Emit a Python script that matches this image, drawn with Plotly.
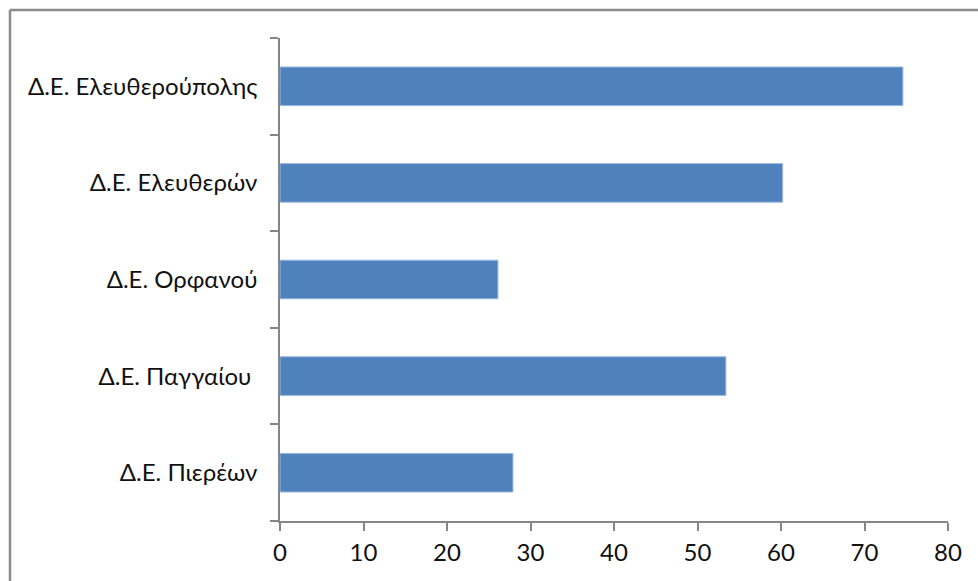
import plotly.graph_objects as go

categories = ["Δ.Ε. Πιερέων", "Δ.Ε. Παγγαίου ", "Δ.Ε. Ορφανού", "Δ.Ε. Ελευθερών", "Δ.Ε. Ελευθερούπολης"]
values = [27.9, 53.4, 26.1, 60.2, 74.6]
x_ticks = [0, 10, 20, 30, 40, 50, 60, 70, 80]

L, R, T, B = 280, 30, 38, 60
W, H = 978, 581
pw, ph = W - L - R, H - T - B

fig = go.Figure(go.Bar(
    y=categories, x=values, orientation="h",
    marker=dict(color="#4F81BD", line=dict(color="#9DB9DE", width=1)),
))

fig.update_layout(
    width=W, height=H,
    margin=dict(l=L, r=R, t=T, b=B),
    paper_bgcolor="white", plot_bgcolor="white",
    bargap=0.6, showlegend=False,
    font=dict(family="Lato", size=24, color="#111111"),
    xaxis=dict(range=[0, 80], tickvals=x_ticks, showgrid=False, zeroline=False,
               showline=True, linecolor="#868686", linewidth=1.5,
               ticks="outside", ticklen=8, tickcolor="#868686", tickwidth=1.5,
               ticklabelstandoff=1, fixedrange=True),
    yaxis=dict(type="category", categoryorder="array", categoryarray=categories,
               showgrid=False, showline=True, linecolor="#868686", linewidth=1.5,
               ticks="outside", ticklen=8, tickcolor="#868686", tickwidth=1.5,
               tickson="boundaries", ticklabelstandoff=16, fixedrange=True),
    shapes=[
        dict(type="line", xref="paper", yref="paper",
             x0=(10 - L) / pw, x1=(W + 5 - L) / pw,
             y0=1 + (T - 10) / ph, y1=1 + (T - 10) / ph,
             line=dict(color="#8a8a8a", width=2.5)),
        dict(type="line", xref="paper", yref="paper",
             x0=(10 - L) / pw, x1=(10 - L) / pw,
             y0=1 + (T - 10) / ph, y1=-(B + 5) / ph,
             line=dict(color="#8a8a8a", width=2.5)),
    ],
)

fig.write_html("out.html")
